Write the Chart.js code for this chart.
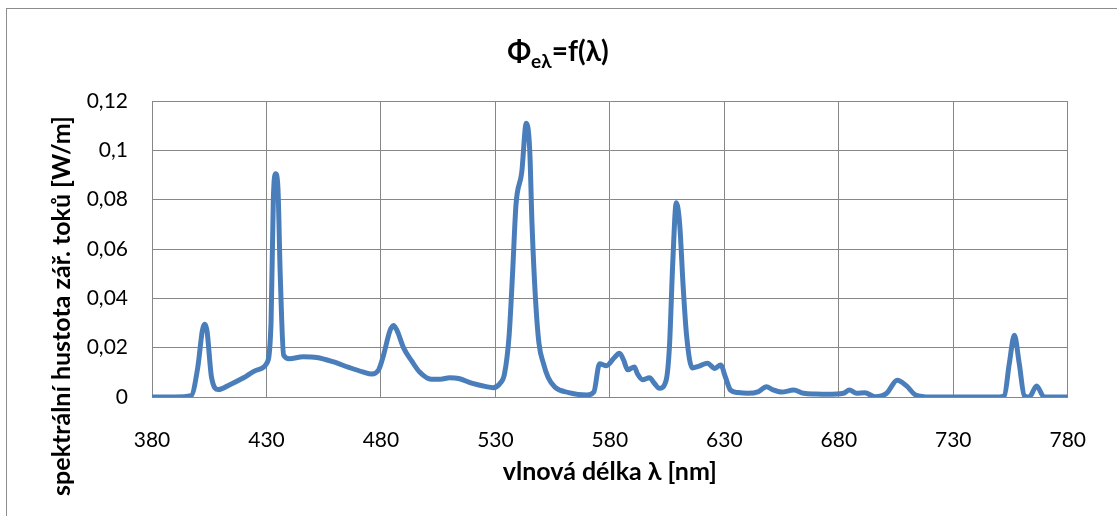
<!DOCTYPE html>
<html>
<head>
<meta charset="utf-8">
<script src="https://cdn.jsdelivr.net/npm/chart.js@4.4.1/dist/chart.umd.min.js"></script>
<style>
  html, body { margin: 0; padding: 0; background: #fff; }
  #wrap { position: relative; width: 1117px; height: 516px; overflow: hidden; }
  #frame { position: absolute; left: 6px; top: 8px; width: 1130px; height: 530px; border: 1px solid #8c8c8c; box-sizing: border-box; }
  canvas { position: absolute; left: 0; top: 0; }
</style>
</head>
<body>
<div id="wrap">
  <div id="frame"></div>
  <canvas id="c" width="1117" height="516"></canvas>
</div>
<script>
const wavelengths = [380,390,397,400,402,403,404,406,409,414,420,426,430,432,433,434,435,436,437.5,440,446,452,459,466,472,476,479,481,484,485.5,487,490,493.5,497,502,506,510,514,520,526,529,532,534,536,537.5,539,541.5,543.5,545,546,547.5,549,551,553,556,562,570,573,575.5,578.5,582,584.2,586,587.8,590.7,592,594.3,597.3,599.5,601.6,604.5,606,607.5,609,610.5,612,613.5,616,619,622.6,625.8,628.4,630.5,632.7,636,640,645,648.4,651,655,660.3,664.6,670,675,682,684.6,687.8,691.4,695.8,700.9,705.5,709.6,713.6,720,730,740,750,752.3,754.5,756.7,758.8,761,763.2,766.4,769.7,780];
const fluxValues = [0,0,0.0005,0.012,0.027,0.0295,0.027,0.008,0.003,0.005,0.0078,0.011,0.0135,0.03,0.08,0.0905,0.085,0.05,0.017,0.0155,0.0163,0.016,0.0143,0.012,0.0102,0.0093,0.011,0.0165,0.027,0.029,0.027,0.0197,0.0145,0.010,0.0072,0.0072,0.0078,0.0075,0.0055,0.0042,0.0038,0.0055,0.0095,0.025,0.05,0.078,0.091,0.111,0.1,0.07,0.04,0.022,0.0135,0.008,0.004,0.0018,0.0008,0.002,0.0135,0.0127,0.016,0.0177,0.015,0.011,0.0122,0.0095,0.007,0.0078,0.0055,0.0035,0.0065,0.02,0.055,0.0787,0.07,0.045,0.025,0.0118,0.0125,0.0137,0.0116,0.013,0.008,0.0028,0.0018,0.0015,0.0022,0.0042,0.003,0.002,0.0028,0.0015,0.0012,0.0011,0.0015,0.0028,0.0015,0.0017,0.0001,0.0015,0.0068,0.0045,0.0008,0,0,0,0,0.0005,0.0137,0.025,0.0137,0.0006,0,0.0045,0,0];
const xTicks = [380,430,480,530,580,630,680,730,780];
const yTicks = [0,0.02,0.04,0.06,0.08,0.1,0.12];

const titleMain = "Φ", titleSub = "eλ", titleRest = "=f(λ)";
const xTitle = "vlnová délka λ [nm]";
const yTitle = "spektrální hustota zář. toků [W/m]";

const FONT = "Lato, 'Open Sans', sans-serif";
const gridColor = "#878787";

const textPlugin = {
  id: 'extraText',
  afterDraw(chart) {
    const ctx = chart.ctx;
    ctx.save();
    ctx.fillStyle = '#000';
    ctx.textBaseline = 'alphabetic';
    ctx.textAlign = 'left';
    const big = "bold 28px " + FONT, small = "bold 19px " + FONT;
    ctx.font = big; const w1 = ctx.measureText(titleMain).width;
    const w3 = ctx.measureText(titleRest).width;
    ctx.font = small; const w2 = ctx.measureText(titleSub).width;
    const total = w1 + w2 + w3;
    let x = 558 - total / 2;
    const base = 61;
    ctx.font = big; ctx.fillText(titleMain, x, base); x += w1;
    ctx.font = small; ctx.fillText(titleSub, x, base + 7); x += w2;
    ctx.font = big; ctx.fillText(titleRest, x, base);
    // y axis title (centred on chart height, as in the reference)
    ctx.translate(62, 306);
    ctx.rotate(-Math.PI / 2);
    ctx.font = "bold 25px " + FONT;
    ctx.textAlign = 'center';
    ctx.textBaseline = 'middle';
    ctx.fillText(yTitle, 0, 0);
    ctx.restore();
  }
};

const ctx = document.getElementById('c').getContext('2d');
new Chart(ctx, {
  type: 'line',
  data: {
    datasets: [{
      data: wavelengths.map((w, i) => ({ x: w, y: fluxValues[i] })),
      borderColor: '#4A7EBB',
      borderWidth: 5,
      pointRadius: 0,
      fill: false,
      cubicInterpolationMode: 'monotone',
      borderCapStyle: 'round',
      borderJoinStyle: 'round'
    }]
  },
  options: {
    responsive: false,
    animation: false,
    layout: { padding: { left: 40, right: 45, top: 101, bottom: 20 } },
    plugins: { legend: { display: false }, tooltip: { enabled: false }, title: { display: false } },
    scales: {
      x: {
        type: 'linear', min: 380, max: 780,
        afterBuildTicks(s) { s.ticks = xTicks.map(v => ({ value: v })); },
        afterFit(s) { s.height = 516 - 20 - 397; },
        grid: { color: gridColor, lineWidth: 1, drawTicks: false },
        border: { color: gridColor, width: 1 },
        ticks: { color: '#000', font: { family: FONT, size: 21 }, padding: 31, maxRotation: 0 },
        title: { display: true, text: xTitle, color: '#000', font: { family: FONT, size: 25, weight: 'bold' }, padding: { top: 0, bottom: 9 } }
      },
      y: {
        min: 0, max: 0.12,
        afterBuildTicks(s) { s.ticks = yTicks.map(v => ({ value: v })); },
        afterFit(s) { s.width = 152 - 40; },
        grid: { color: gridColor, lineWidth: 1, drawTicks: false },
        border: { color: gridColor, width: 1 },
        ticks: { color: '#000', font: { family: FONT, size: 21 }, padding: 24,
          callback: v => String(Math.round(v * 100) / 100).replace('.', ',') },
        title: { display: false }
      }
    }
  },
  plugins: [textPlugin]
});
</script>
</body>
</html>
